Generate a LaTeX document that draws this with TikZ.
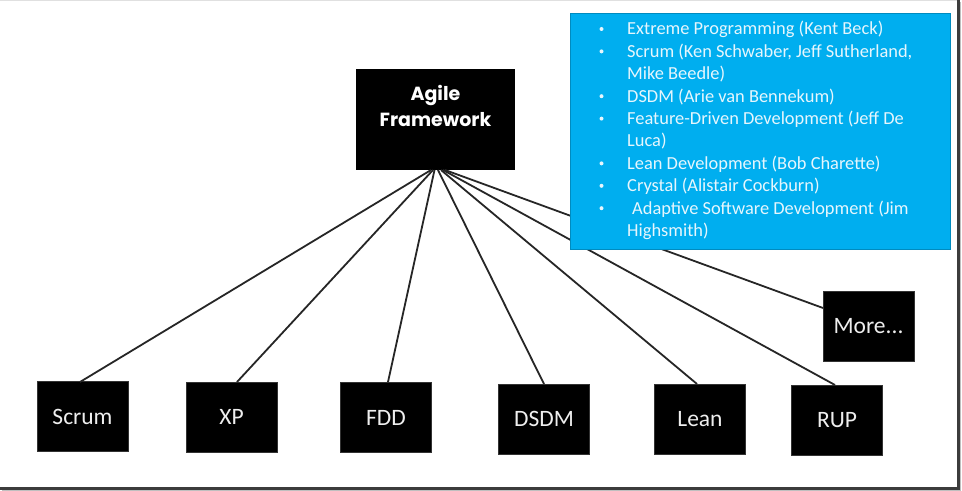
\documentclass[tikz,border=0pt]{standalone}
\usepackage{fontspec}
\setmainfont{Carlito}
\newfontfamily\headfont{Poppins}
\definecolor{skyblue}{HTML}{00AEEF}
\definecolor{boxtext}{HTML}{EEEEEE}
\definecolor{listtext}{HTML}{E6F6FD}
\definecolor{framegray}{HTML}{3C3C3C}
\begin{document}
\begin{tikzpicture}[x=1bp,y=-1bp,
  leaf/.style={fill=black,draw=black!80,minimum width=91bp,minimum height=70bp,inner sep=0pt,
    text=boxtext,font=\fontsize{23.5bp}{26bp}\selectfont},
  conn/.style={draw=black!85,line width=1.8bp},
  bullet/.style={anchor=base west,inner sep=0pt,text=listtext,font=\fontsize{18.4bp}{22.4bp}\selectfont},
  dot/.style={circle,fill=listtext,inner sep=0pt,minimum size=4bp},
]
\useasboundingbox (0,0) rectangle (962,491);
\fill[white] (0,0) rectangle (962,491);
% frame
\draw[black!12,line width=1.5bp] (0,0.75) -- (958,0.75);
\fill[framegray] (956.5,0) rectangle (959.5,489.5);
\fill[framegray] (0,486.5) rectangle (959.5,489.5);
\fill[black!25] (959.5,2) rectangle (961,491);
\fill[black!25] (2,489.5) rectangle (961,491);

% root
\node[fill=black,minimum width=159bp,minimum height=101bp,inner sep=0pt] (root) at (435.5,119.5) {};
\node[anchor=base,inner sep=0pt,text=white,font=\headfont\bfseries\fontsize{19bp}{26bp}\selectfont] (t1) at (435.5,101) {Agile};
\node[anchor=base,inner sep=0pt,text=white,font=\headfont\bfseries\fontsize{19bp}{26bp}\selectfont] (t2) at (435.5,127) {Framework};

% leaves
\node[leaf] (scrum) at (82.5,416.5) {Scrum};
\node[leaf] (xp) at (231.5,417) {XP};
\node[leaf] (fdd) at (386,417.5) {FDD};
\node[leaf] (dsdm) at (544,419) {DSDM};
\node[leaf] (lean) at (700,419) {Lean};
\node[leaf] (rup) at (837,420) {RUP};
\node[leaf] (more) at (868.5,326) {More...};

% connector start points
\coordinate (s1) at (431,170);
\coordinate (s2) at (433,170);
\coordinate (s3) at (434.5,170);
\coordinate (s4) at (438,170);
\coordinate (s5) at (441,170);
\coordinate (s6) at (443,170);
\coordinate (s7) at (445,170);
\coordinate (e1) at (80,382);
\coordinate (e2) at (237,382);
\coordinate (e3) at (388,382);
\coordinate (e4) at (544,384);
\coordinate (e5) at (697,384);
\coordinate (e6) at (835,385);
\coordinate (e7) at (823,308);
\draw[conn] (s1) -- (e1);
\draw[conn] (s2) -- (e2);
\draw[conn] (s3) -- (e3);
\draw[conn] (s4) -- (e4);
\draw[conn] (s5) -- (e5);
\draw[conn] (s6) -- (e6);
\draw[conn] (s7) -- (e7);

% blue list box
\node[fill=skyblue,draw=skyblue!80!black,line width=0.6bp,minimum width=380bp,minimum height=236bp,inner sep=0pt] (list) at (760,131) {};
\foreach \y in {35,57.4,102.2,124.6,169.4,191.8,214.2}
  \node[dot] at (601.5,\y-6) {};
\node[bullet] (l1) at (627,35) {Extreme Programming (Kent Beck)};
\node[bullet] (l2) at (627,57.4) {Scrum (Ken Schwaber, Jeff Sutherland,};
\node[bullet] (l3) at (627,79.8) {Mike Beedle)};
\node[bullet] (l4) at (627,102.2) {DSDM (Arie van Bennekum)};
\node[bullet] (l5) at (627,124.6) {Feature-Driven Development (Jeff De};
\node[bullet] (l6) at (627,147) {Luca)};
\node[bullet] (l7) at (627,169.4) {Lean Development (Bob Charette)};
\node[bullet] (l8) at (627,191.8) {Crystal (Alistair Cockburn)};
\node[bullet] (l9) at (632,214.2) {Adaptive Software Development (Jim};
\node[bullet] (l10) at (627,236.6) {Highsmith)};
\end{tikzpicture}
\end{document}
